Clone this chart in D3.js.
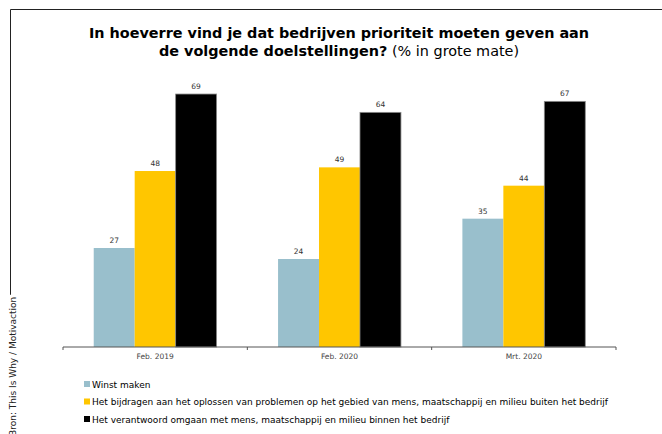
<!DOCTYPE html>
<html>
<head>
<meta charset="utf-8">
<script src="https://cdn.jsdelivr.net/npm/d3@7"></script>
<style>
  body { margin: 0; background: #fff; }
  svg { display: block; font-family: "DejaVu Sans", Verdana, sans-serif; }
</style>
</head>
<body>
<div id="chart"></div>
<script>
// Data
const categories = ["Feb. 2019", "Feb. 2020", "Mrt. 2020"];
const seriesNames = [
    "Winst maken",
    "Het bijdragen aan het oplossen van problemen op het gebied van mens, maatschappij en milieu buiten het bedrijf",
    "Het verantwoord omgaan met mens, maatschappij en milieu binnen het bedrijf"
];
const winstMaken = [27, 24, 35];
const bijdragen = [48, 49, 44];
const verantwoord = [69, 64, 67];
const seriesColors = ["#99bfcc", "#ffc600", "#000000"];

const width = 662, height = 434;

const svg = d3.select("#chart").append("svg")
    .attr("width", width)
    .attr("height", height);

// outer frame (top + left)
svg.append("path")
    .attr("d", `M10.5,${height} V9.5 H${width}`)
    .attr("fill", "none")
    .attr("stroke", "#222")
    .attr("stroke-width", 1);

// Title
const title = svg.append("text")
    .attr("x", 339)
    .attr("text-anchor", "middle")
    .attr("font-size", 14.4)
    .attr("fill", "#000");
title.append("tspan").attr("x", 339).attr("y", 38)
    .attr("font-weight", "bold")
    .text("In hoeverre vind je dat bedrijven prioriteit moeten geven aan");
const l2 = title.append("tspan").attr("x", 339).attr("y", 56);
l2.append("tspan").attr("font-weight", "bold").text("de volgende doelstellingen?");
l2.append("tspan").text(" (% in grote mate)");

// Scales
const x0 = d3.scaleBand().domain(categories).range([63, 616]).padding(0);
const x1 = d3.scaleBand().domain(d3.range(seriesNames.length))
    .range([0, x0.bandwidth()]).paddingInner(0).paddingOuter(0.75);
const y = d3.scaleLinear().domain([0, 80]).range([347, 53.7]);

const series = [winstMaken, bijdragen, verantwoord];

// Bars
const groups = svg.append("g").selectAll("g")
    .data(categories).enter().append("g")
    .attr("transform", d => `translate(${x0(d)},0)`);

groups.each(function(cat, ci) {
    const g = d3.select(this);
    series.forEach((vals, si) => {
        g.append("rect")
            .attr("x", x1(si))
            .attr("y", y(vals[ci]))
            .attr("width", x1.bandwidth())
            .attr("height", y(0) - y(vals[ci]))
            .attr("fill", seriesColors[si])
            .attr("stroke", si === 2 ? "#8a8a8a" : "none")
            .attr("stroke-width", 0.8);
        g.append("text")
            .attr("x", x1(si) + x1.bandwidth() / 2)
            .attr("y", y(vals[ci]) - 5)
            .attr("text-anchor", "middle")
            .attr("font-size", 7.5)
            .attr("fill", "#333")
            .text(vals[ci]);
    });
});

// X axis: baseline with ticks at band edges
const axisG = svg.append("g").attr("transform", `translate(0,${y(0)})`);
axisG.append("line")
    .attr("x1", x0.range()[0]).attr("x2", x0.range()[1])
    .attr("stroke", "#555").attr("stroke-width", 1);
const edges = categories.map(c => x0(c)).concat([x0.range()[1]]);
axisG.selectAll(".tick").data(edges).enter().append("line")
    .attr("x1", d => d).attr("x2", d => d)
    .attr("y1", 0).attr("y2", 3)
    .attr("stroke", "#555");
axisG.selectAll(".cat").data(categories).enter().append("text")
    .attr("x", d => x0(d) + x0.bandwidth() / 2)
    .attr("y", 12)
    .attr("text-anchor", "middle")
    .attr("font-size", 7.5)
    .attr("fill", "#444")
    .text(d => d);

// Legend
const legend = svg.append("g").attr("transform", "translate(84,0)");
seriesNames.forEach((name, i) => {
    const ly = 384 + i * 17.5;
    legend.append("rect")
        .attr("x", 0).attr("y", ly - 3)
        .attr("width", 6).attr("height", 6)
        .attr("fill", seriesColors[i]);
    legend.append("text")
        .attr("x", 8).attr("y", ly + 3.5)
        .attr("font-size", 9)
        .attr("fill", "#000")
        .text(name);
});

// Source, rotated along the left edge (cut off at the bottom, as in the original)
const src = svg.append("g").attr("transform", "translate(16,436) rotate(-90)");
const srcText = src.append("text")
    .attr("x", 0).attr("y", 0)
    .attr("font-size", 9)
    .attr("fill", "#222")
    .text("Bron: This Is Why / Motivaction");
const bb = srcText.node().getBBox();
src.insert("rect", "text")
    .attr("x", bb.x - 2).attr("y", bb.y)
    .attr("width", bb.width + 4).attr("height", bb.height)
    .attr("fill", "#fff");
</script>
</body>
</html>
